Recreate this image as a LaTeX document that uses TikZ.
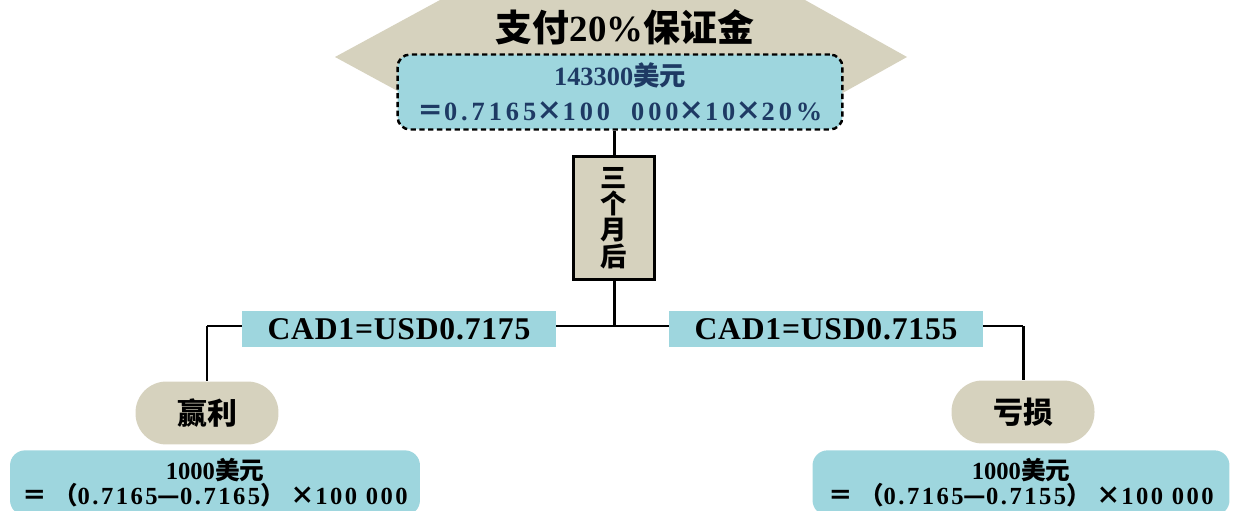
\documentclass[tikz,border=0pt]{standalone}
\usepackage{fontspec}
\setmainfont{Liberation Serif}
\newfontfamily\cjk{Noto Sans CJK SC}
\usepackage{xcolor}
\definecolor{tanfill}{RGB}{214,210,190}
\definecolor{bluefill}{RGB}{158,214,222}
\definecolor{navytext}{RGB}{30,58,100}
\tikzset{
  bluebox/.style={fill=bluefill, rounded corners=0.3cm, inner sep=0pt, align=center},
  tanoval/.style={fill=tanfill, rounded corners=0.62cm, minimum width=2.86cm, minimum height=1.26cm, font=\fontsize{17}{20}\selectfont\bfseries\cjk},
  ratebox/.style={fill=bluefill, minimum width=6.28cm, minimum height=0.72cm, inner sep=0pt, font=\fontsize{18}{20}\selectfont\bfseries\addfontfeature{LetterSpace=2.5}},
  link/.style={line width=1.7pt}
}

\begin{document}
\begin{tikzpicture}[x=0.02cm,y=-0.02cm]
\useasboundingbox (0,0) rectangle (1236,510);
\fill[tanfill] (335,57) -- (440,0) -- (805,0) -- (907,57) -- (805,114) -- (440,114) -- cycle;
\node[font=\fontsize{21}{24}\selectfont\bfseries] (title) at (625,27) {{\cjk 支付}20\%{\cjk 保证金}};
\node[bluebox, draw, densely dashed, line width=1.4pt, rounded corners=0.25cm, minimum width=8.9cm, minimum height=1.5cm, text=navytext, font=\fontsize{15}{20}\selectfont\bfseries] (margin) at (620,92) {143300{\cjk 美元}\\{\cjk ＝}{\addfontfeature{LetterSpace=15}0.7165}{\cjk ×}{\addfontfeature{LetterSpace=15}100\ \ 000}{\cjk ×}{\addfontfeature{LetterSpace=15}10}{\cjk ×}{\addfontfeature{LetterSpace=15}20\%}};
\node[draw, line width=1.7pt, fill=tanfill, minimum width=1.62cm, minimum height=2.46cm, align=center, inner sep=0pt, font=\fontsize{15}{15}\selectfont\bfseries\cjk] (later) at (614,218) {三\\个\\月\\后};
\draw[link] (margin.south -| later.north) -- (later.north);
\coordinate (fork) at (614,326);
\coordinate (forkL) at (207,326);
\coordinate (forkR) at (1023,326);
\draw[link] (later) -- (fork);
\draw[link] (forkL) -- (forkR);
\node[ratebox] (up) at (399,329) {CAD1=USD0.7175};
\node[ratebox] (down) at (826,329) {CAD1=USD0.7155};
\node[tanoval] (gain) at (207,413) {赢利};
\node[tanoval] (loss) at (1023,412) {亏损};
\draw[link] (forkL) -- (gain);
\draw[link] (forkR) -- (loss);
\node[bluebox, anchor=north, minimum width=8.2cm, minimum height=1.3cm, font=\fontsize{14}{14.5}\selectfont\bfseries] (gainsum) at (215,450) {1000{\cjk 美元}\\{\cjk ＝}\ {\cjk （}{\addfontfeature{LetterSpace=10}0.7165}{\cjk —}{\addfontfeature{LetterSpace=10}0.7165}{\cjk ）}\ {\cjk ×}{\addfontfeature{LetterSpace=10}100\ 000}};
\node[bluebox, anchor=north, minimum width=8.34cm, minimum height=1.3cm, font=\fontsize{14}{14.5}\selectfont\bfseries] (losssum) at (1021,450) {1000{\cjk 美元}\\{\cjk ＝}\ {\cjk （}{\addfontfeature{LetterSpace=10}0.7165}{\cjk —}{\addfontfeature{LetterSpace=10}0.7155}{\cjk ）}\ {\cjk ×}{\addfontfeature{LetterSpace=10}100\ 000}};
\end{tikzpicture}
\end{document}
